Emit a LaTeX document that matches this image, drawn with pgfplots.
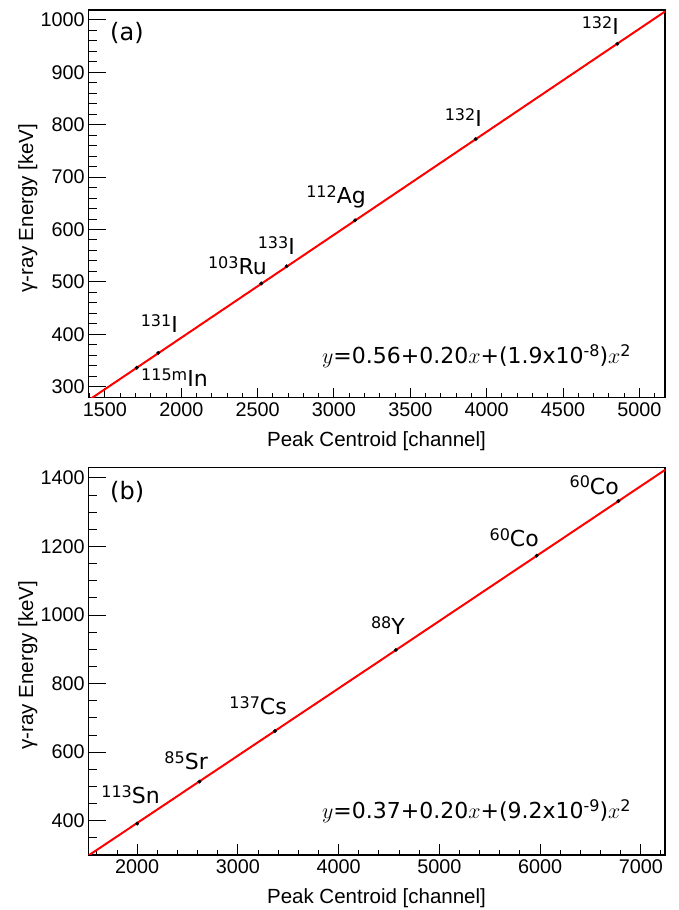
\documentclass[border=0pt]{standalone}
\usepackage{fix-cm}
\usepackage{fontspec}
\setmainfont{Liberation Sans}
\newfontfamily\dejavu{DejaVu Sans}
\usepackage{pgfplots}
\pgfplotsset{compat=1.18}
\newcommand\iso[2]{\raisebox{0.3em}{\fontsize{16}{16}\selectfont #1}#2}
\newcommand\lab{\dejavu\fontsize{22}{24}\selectfont}
\newcommand\ttl{\fontsize{20.5}{22}\selectfont}
\pgfplotsset{
  rootstyle/.style={
    scale only axis,
    anchor=south west,
    tick pos=left,
    tick align=inside,
    axis line style={black, line width=1.2pt},
    every tick/.style={black, line width=1pt},
    tick label style={font=\fontsize{19.8}{20}\selectfont},
    /pgf/number format/assume math mode=true,
    /pgf/number format/1000 sep={},
    scaled ticks=false,
    xticklabel style={yshift=-1pt},
    ytick style={/pgfplots/major tick length=17.7pt,/pgfplots/minor tick length=8.3pt},
  },
  fitline/.style={red, line width=2pt, no marks},
  pts/.style={only marks, mark=*, mark size=1.8pt, black},
}
\begin{document}
\begin{tikzpicture}[x=1pt,y=1pt]
\useasboundingbox (0,0) rectangle (678,910);
% ---------------- panel (a)
\begin{axis}[rootstyle,
  at={(88.3pt,512.3pt)}, width=576.7pt, height=387.7pt,
  xmin=1391, xmax=5168, ymin=279, ymax=1019,
  xtick={1500,2000,...,5000},
  minor xtick={1400,1500,...,5100},
  ytick={300,400,...,1000},
  minor ytick={280,300,...,1000},
  xtick style={/pgfplots/major tick length=10pt,/pgfplots/minor tick length=5pt},
]
\addplot[fitline] coordinates {(1391,273.8) (3279,644.8) (5168,1016.1)};
\addplot[pts] coordinates {
(1708,336.2) (1849,364.5) (2524,497.1) (2690,529.9)
(3138,617.5) (3928,772.6) (4856,954.6)};
\end{axis}
% ---------------- panel (b)
\begin{axis}[rootstyle,
  at={(88.3pt,55pt)}, width=576.7pt, height=387.3pt,
  xmin=1515, xmax=7240, ymin=300, ymax=1430,
  xtick={2000,3000,...,7000},
  minor xtick={1600,1800,...,7200},
  ytick={400,600,...,1400},
  minor ytick={300,350,...,1400},
  xtick style={/pgfplots/major tick length=11pt,/pgfplots/minor tick length=5pt},
]
\addplot[fitline] coordinates {(1515,298.1) (4377,860.2) (7240,1423.5)};
\addplot[pts] coordinates {
(2000,391.7) (2619,514.0) (3368,661.7) (4568,898.0)
(5966,1173.2) (6777,1332.5)};
\end{axis}
% ---------------- annotations (a)
\begin{scope}[every node/.style={inner sep=0pt}]
\node[anchor=base west] at (110,869) {\dejavu\fontsize{24}{26}\selectfont (a)};
\node[anchor=base east] at (619,875) {\lab\iso{132}{I}};
\node[anchor=base east] at (482,783) {\lab\iso{132}{I}};
\node[anchor=base east] at (366,706) {\lab\iso{112}{Ag}};
\node[anchor=base east] at (295,655) {\lab\iso{133}{I}};
\node[anchor=base east] at (267,635) {\lab\iso{103}{Ru}};
\node[anchor=base east] at (178,577) {\lab\iso{131}{I}};
\node[anchor=base west] at (141,523) {\lab\iso{115m}{In}};
\node[anchor=base west] at (322,546.7) {\lab $y$=0.56+0.20$x$+(1.9x10\iso{-8}{})$x$\iso{2}{}};
\node[anchor=base] at (376.5,463.3) {\ttl Peak Centroid [channel]};
\node[anchor=base, rotate=90] at (33,702) {\ttl γ-ray Energy [keV]};
% ---------------- annotations (b)
\node[anchor=base west] at (110,410) {\dejavu\fontsize{24}{26}\selectfont (b)};
\node[anchor=base east] at (619,415.7) {\lab\iso{60}{Co}};
\node[anchor=base east] at (539,363.3) {\lab\iso{60}{Co}};
\node[anchor=base east] at (405,275) {\lab\iso{88}{Y}};
\node[anchor=base east] at (287,195) {\lab\iso{137}{Cs}};
\node[anchor=base east] at (208,140) {\lab\iso{85}{Sr}};
\node[anchor=base east] at (160,106) {\lab\iso{113}{Sn}};
\node[anchor=base west] at (322,91.7) {\lab $y$=0.37+0.20$x$+(9.2x10\iso{-9}{})$x$\iso{2}{}};
\node[anchor=base] at (376.5,6.7) {\ttl Peak Centroid [channel]};
\node[anchor=base, rotate=90] at (33,245) {\ttl γ-ray Energy [keV]};
\end{scope}
\end{tikzpicture}
\end{document}
